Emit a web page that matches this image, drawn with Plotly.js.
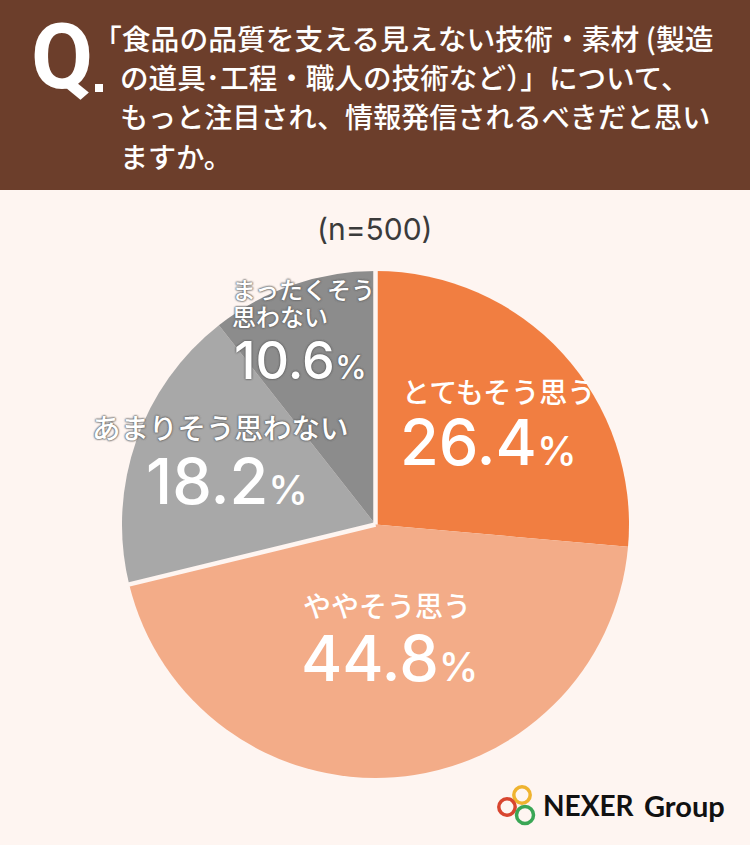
<!DOCTYPE html>
<html>
<head>
<meta charset="utf-8">
<script src="https://cdn.plot.ly/plotly-3.0.1.min.js"></script>
<style>html,body{margin:0;padding:0;background:#fef5f1}</style>
</head>
<body>
<div id="chart" style="width:750px;height:845px"></div>
<script>
const W = 750, H = 845;
const categories = ["とてもそう思う", "ややそう思う", "あまりそう思わない", "まったくそう思わない"];
const values = [26.4, 44.8, 18.2, 10.6];
const colors = ["#f17e41", "#f3ac88", "#a8a8a8", "#8c8c8c"];
const questionLines = [
  "「食品の品質を支える見えない技術・素材 (製造",
  "の道具･工程・職人の技術など）」について、",
  "もっと注目され、情報発信されるべきだと思い",
  "ますか。"
];
const sampleNote = "(n=500)";
const JP = '"Noto Sans CJK JP", sans-serif';
const NUM = 'Inter, "Noto Sans", sans-serif';

const cx = 375.5, cy = 524.5, r = 253.5;
function px(x) { return x / W; }
function py(y) { return 1 - y / H; }

function note(x, y, text, font, opts) {
  return Object.assign({
    xref: "paper", yref: "paper", x: px(x), y: py(y),
    xanchor: "left", yanchor: "middle", showarrow: false, text: text,
    font: font
  }, opts || {});
}
const outline = "0 0 2px #666, 0 0 2px #666, 0 0 2px #666";
function pct(v, small) {
  return v.toFixed(1) + "<span style='font-size:" + small + "px'>%</span>";
}
const jp = (s, sh) => ({ family: JP, size: s, color: "#fff", weight: 500, shadow: sh ? outline : "none" });
const num = (s, sh) => ({ family: NUM, size: s, color: "#fff", weight: 500, shadow: sh ? outline : "none" });

let annotations = [];
// header text
annotations.push(note(29, 57, "Q", { family: '"Liberation Sans Narrow", Roboto, sans-serif', size: 90, color: "#fff", weight: 700 }));
annotations.push(note(91, 38, questionLines[0], jp(28.8)));
annotations.push(note(118, 76.5, questionLines[1], jp(28.6)));
annotations.push(note(118, 115, questionLines[2], jp(28.1)));
annotations.push(note(118, 155, questionLines[3], jp(28.1)));
annotations.push(note(375, 229, sampleNote, { family: NUM, size: 30, color: "#3b3b3b" }, { xanchor: "center" }));

// slice labels
annotations.push(note(400, 391, categories[0], jp(28)));
annotations.push(note(398, 442, pct(values[0], 40), num(63)));
annotations.push(note(301, 605, categories[1], jp(28)));
annotations.push(note(299, 658, pct(values[1], 40), num(63)));
annotations.push(note(90, 426, categories[2], jp(28.5, true)));
annotations.push(note(144, 481, pct(values[2], 40), num(63)));
annotations.push(note(230, 288, categories[3].slice(0, 6), jp(24, true)));
annotations.push(note(230, 315, categories[3].slice(6), jp(24, true)));
annotations.push(note(232, 361, pct(values[3], 32), num(52, true)));

// logo
annotations.push(note(541, 805, "NEXER", { family: "Lato, sans-serif", size: 28, color: "#111", weight: 700 }));
annotations.push(note(642, 805, "Group", { family: "Lato, sans-serif", size: 29, color: "#111", weight: 700 }));

function ring(x, y, rad, color) {
  return {
    type: "circle", xref: "paper", yref: "paper", layer: "above",
    x0: px(x - rad), x1: px(x + rad), y0: py(y + rad), y1: py(y - rad),
    line: { color: color, width: 3.5 }, fillcolor: "rgba(0,0,0,0)"
  };
}
// gaps that set the grey slices apart from the orange ones, placed from the values
function gap(share) {
  const a = 2 * Math.PI * share / 100;
  return {
    type: "line", xref: "paper", yref: "paper", layer: "above",
    x0: px(cx), y0: py(cy),
    x1: px(cx + (r + 2) * Math.sin(a)), y1: py(cy - (r + 2) * Math.cos(a)),
    line: { color: "#fef5f1", width: 4.5 }
  };
}
const shapes = [
  { type: "rect", xref: "paper", yref: "paper", layer: "below", x0: 0, x1: 1, y0: py(190), y1: 1, fillcolor: "#6c3e2b", line: { width: 0 } },
  { type: "rect", xref: "paper", yref: "paper", layer: "above", x0: px(95), x1: px(103), y0: py(92), y1: py(84), fillcolor: "#fff", line: { width: 0 } },
  gap(0),
  gap(values[0] + values[1]),
  ring(522, 795, 8.2, "#efb32f"),
  ring(507, 807, 8.2, "#d8452f"),
  ring(525, 815, 8.5, "#3aa655")
];

const data = [{
  type: "pie",
  labels: categories,
  values: values,
  sort: false,
  direction: "clockwise",
  rotation: 0,
  textinfo: "none",
  marker: { colors: colors, line: { width: 0 } },
  domain: { x: [px(cx - r), px(cx + r)], y: [py(cy + r), py(cy - r)] },
  hoverinfo: "label+percent"
}];

const layout = {
  width: W, height: H,
  margin: { l: 0, r: 0, t: 0, b: 0 },
  paper_bgcolor: "#fef5f1",
  showlegend: false,
  annotations: annotations,
  shapes: shapes
};

Plotly.newPlot("chart", data, layout, { displayModeBar: false, staticPlot: true });
</script>
</body>
</html>
